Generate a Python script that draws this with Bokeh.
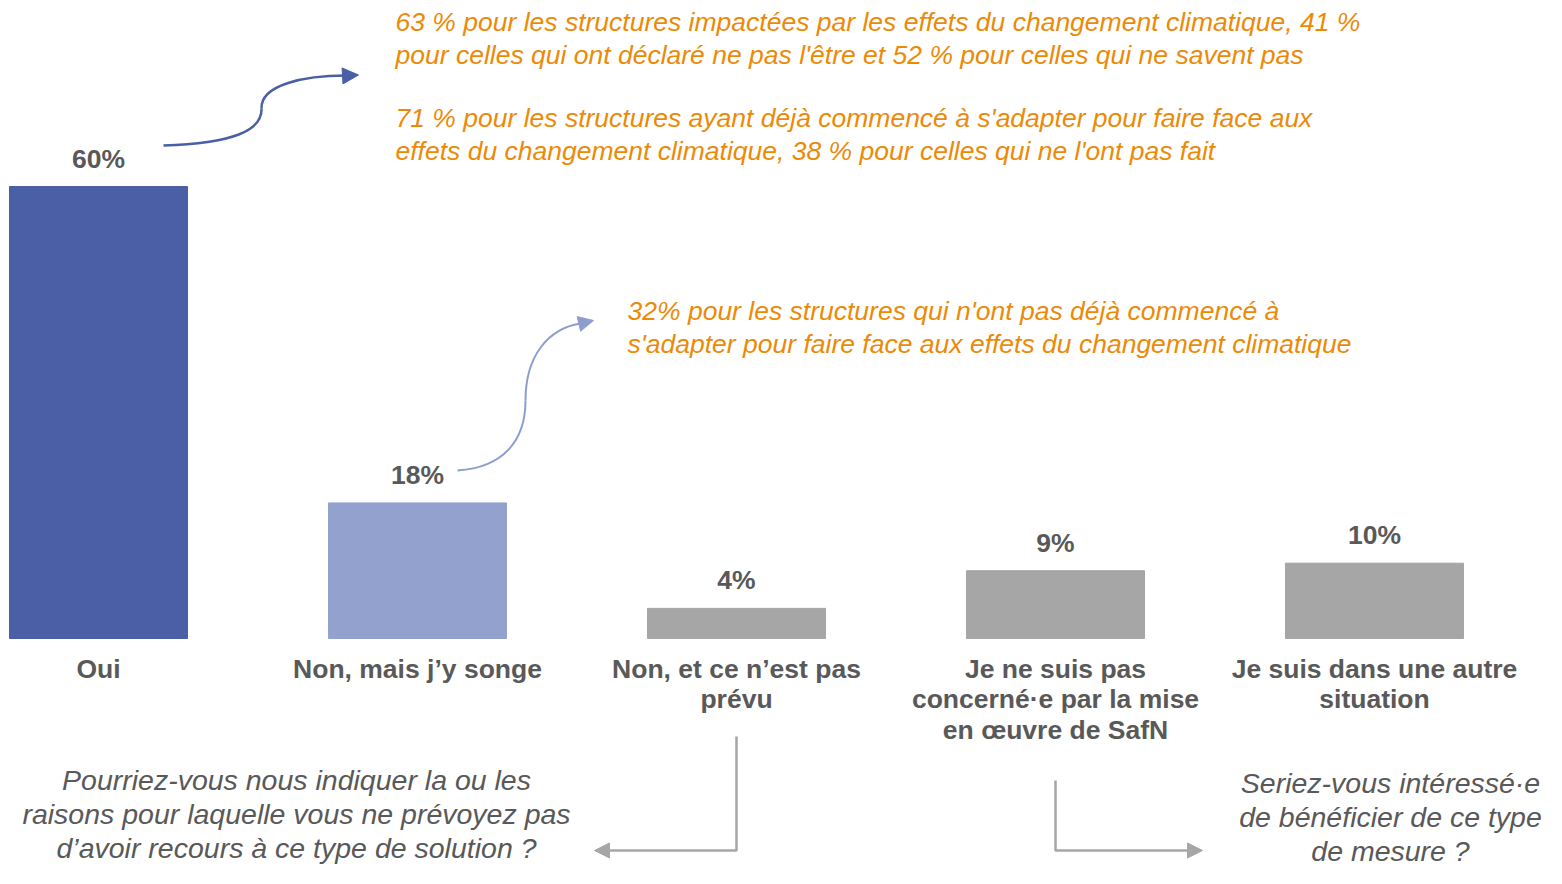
from bokeh.plotting import figure
from bokeh.models import ColumnDataSource, Range1d, Arrow, NormalHead
from bokeh.core.properties import value
from bokeh.embed import file_html
from bokeh.resources import INLINE

# ---- data ----
categories = ["Oui", "Non, mais j’y songe", "Non, et ce n’est pas\nprévu",
              "Je ne suis pas\nconcerné·e par la mise\nen œuvre de SafN",
              "Je suis dans une autre\nsituation"]
values = [60, 18, 4, 9, 10]
value_labels = ["60%", "18%", "4%", "9%", "10%"]
bar_colors = ["#4A5FA5", "#93A1CF", "#A6A6A6", "#A6A6A6", "#A6A6A6"]

note_oui = ["63 % pour les structures impactées par les effets du changement climatique, 41 %\n"
            "pour celles qui ont déclaré ne pas l'être et 52 % pour celles qui ne savent pas",
            "71 % pour les structures ayant déjà commencé à s'adapter pour faire face aux\n"
            "effets du changement climatique, 38 % pour celles qui ne l'ont pas fait"]
note_songe = "32% pour les structures qui n'ont pas déjà commencé à\ns'adapter pour faire face aux effets du changement climatique"
question_prevu = "Pourriez-vous nous indiquer la ou les\nraisons pour laquelle vous ne prévoyez pas\nd’avoir recours à ce type de solution ?"
question_concerne = "Seriez-vous intéressé·e\nde bénéficier de ce type\nde mesure ?"

W, H = 1546, 868
SP = 319.0          # px between bar centres
X0 = 98.0           # px of first bar centre
PPU = 7.533         # px per percent
BASE = 638.0        # px (from top) of baseline

def X(px):  # picture px -> data x
    return (px - X0) / SP

def Y(py):  # picture px -> data y
    return (BASE - py) / PPU

p = figure(width=W, height=H, output_backend="svg", toolbar_location=None,
           x_range=Range1d(-X0 / SP, (W - X0) / SP),
           y_range=Range1d(-(H - BASE) / PPU, BASE / PPU),
           min_border=0, min_border_left=0, min_border_right=0,
           min_border_top=0, min_border_bottom=0)
p.xaxis.visible = False
p.yaxis.visible = False
p.xgrid.visible = False
p.ygrid.visible = False
p.outline_line_color = None
p.background_fill_color = "white"

idx = list(range(len(categories)))
src = ColumnDataSource(dict(x=idx, top=values, color=bar_colors,
                            lab=value_labels, cat=categories))
p.vbar(x="x", top="top", bottom=0, width=0.558, color="color", source=src)

FONT = value("Liberation Sans")
GREY = "#595959"
ORANGE = "#EC8A06"

p.text(x="x", y="top", text="lab", source=src, text_align="center",
       text_baseline="bottom", y_offset=-13, text_font=FONT,
       text_font_style="bold", text_font_size="26.5px", text_color=GREY)

p.text(x="x", y=0, text="cat", source=src, text_align="center",
       text_baseline="top", y_offset=15, text_font=FONT,
       text_font_style="bold", text_font_size="26.5px", text_color=GREY,
       text_line_height=1.03)

# orange notes
p.text(x=[X(395), X(395)], y=[Y(6), Y(102)], text=note_oui, text_align="left",
       text_baseline="top", text_font=FONT, text_font_style="italic",
       text_font_size="26.5px", text_color=ORANGE, text_line_height=1.108)
p.text(x=[X(627)], y=[Y(295)], text=[note_songe], text_align="left",
       text_baseline="top", text_font=FONT, text_font_style="italic",
       text_font_size="26.5px", text_color=ORANGE, text_line_height=1.108)

# questions
p.text(x=[X(296)], y=[Y(763)], text=[question_prevu], text_align="center",
       text_baseline="top", text_font=FONT, text_font_style="italic",
       text_font_size="28.5px", text_color=GREY, text_line_height=1.07)
p.text(x=[X(1390)], y=[Y(766)], text=[question_concerne], text_align="center",
       text_baseline="top", text_font=FONT, text_font_style="italic",
       text_font_size="28.5px", text_color=GREY, text_line_height=1.07)

# curved arrow from "Oui"
C1 = "#4A5FA5"
p.bezier(x0=[X(163), X(261)], y0=[Y(145), Y(108)],
         x1=[X(261), X(345)], y1=[Y(108), Y(75)],
         cx0=[X(232), X(260)], cy0=[Y(143), Y(84)],
         cx1=[X(262), X(305)], cy1=[Y(130), Y(75)],
         line_color=C1, line_width=2.5)
p.add_layout(Arrow(end=NormalHead(size=16, fill_color=C1, line_color=C1),
                   x_start=X(344), y_start=Y(75.3), x_end=X(358), y_end=Y(74.5),
                   line_color=C1, line_width=2.5))

# curved arrow from "Non, mais j'y songe"
C2 = "#8E9DD0"
p.bezier(x0=[X(457), X(525)], y0=[Y(470), Y(400)],
         x1=[X(525), X(580)], y1=[Y(400), Y(323)],
         cx0=[X(503), X(525)], cy0=[Y(467), Y(355)],
         cx1=[X(525), X(548)], cy1=[Y(440), Y(328)],
         line_color=C2, line_width=2)
p.add_layout(Arrow(end=NormalHead(size=15, fill_color=C2, line_color=C2),
                   x_start=X(578), y_start=Y(323.5), x_end=X(593), y_end=Y(320),
                   line_color=C2, line_width=2))

# elbow arrows
C3 = "#A6A6A6"
p.line(x=[2, 2, X(607)], y=[Y(736), Y(850), Y(850)], line_color=C3, line_width=2.5)
p.add_layout(Arrow(end=NormalHead(size=15, fill_color=C3, line_color=C3),
                   x_start=X(608), y_start=Y(850), x_end=X(594), y_end=Y(850),
                   line_color=C3, line_width=2.5))
p.line(x=[3, 3, X(1188)], y=[Y(780), Y(850), Y(850)], line_color=C3, line_width=2.5)
p.add_layout(Arrow(end=NormalHead(size=15, fill_color=C3, line_color=C3),
                   x_start=X(1187), y_start=Y(850), x_end=X(1202), y_end=Y(850),
                   line_color=C3, line_width=2.5))

open("out.html", "w").write(file_html(p, INLINE))
